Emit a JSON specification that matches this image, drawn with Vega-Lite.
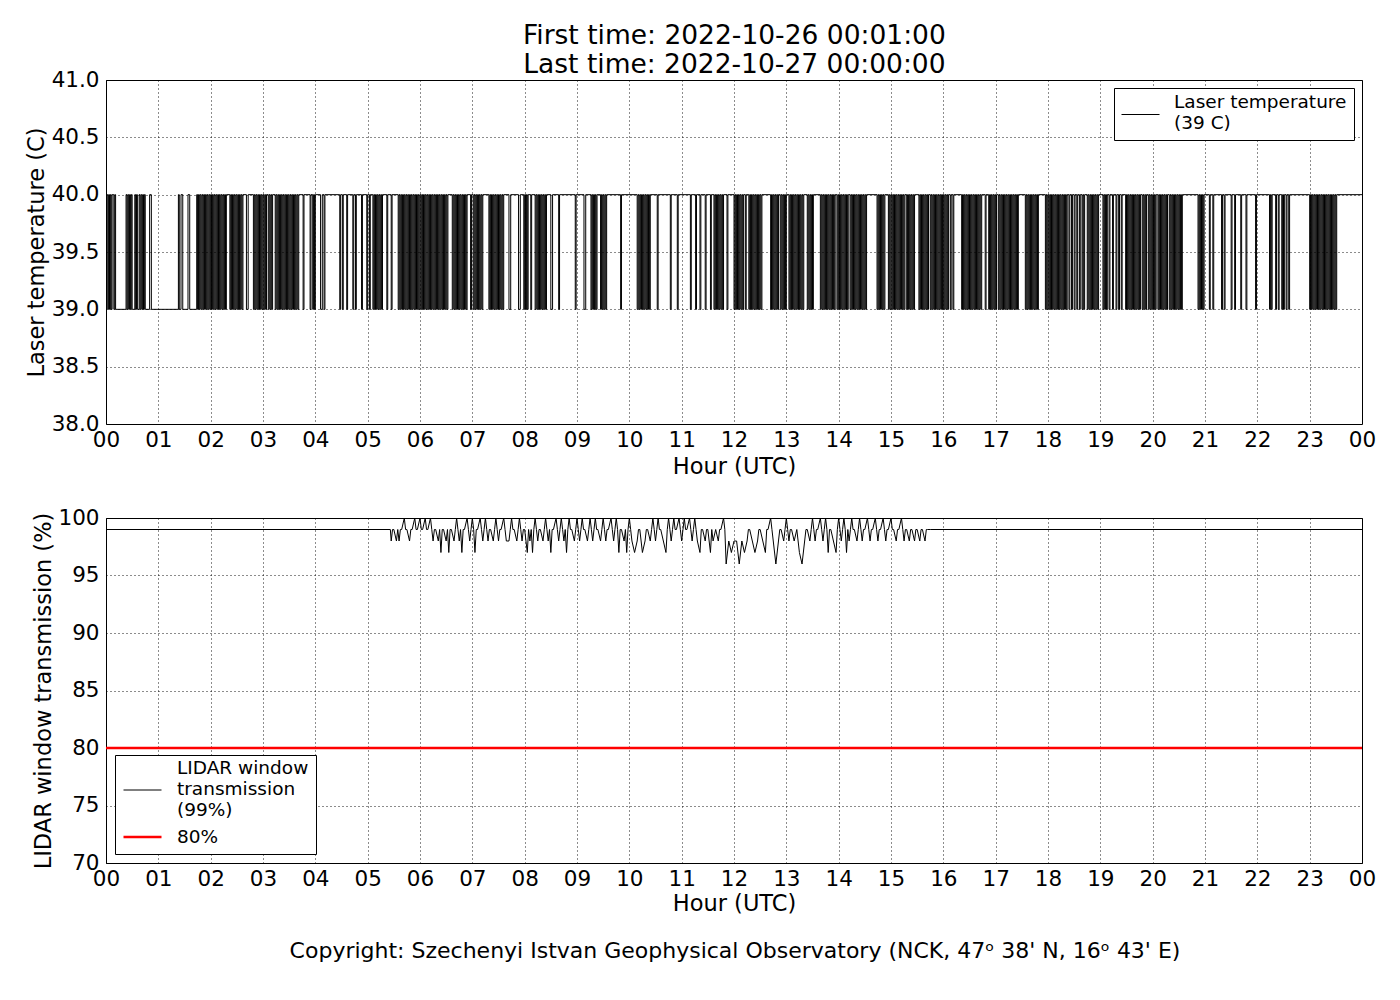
{
  "$schema": "https://vega.github.io/schema/vega-lite/v6.json",
  "background": "white",
  "padding": {"left": 24, "top": 23, "right": 5, "bottom": 5},
  "title": {
    "text": ["First time: 2022-10-26 00:01:00", "Last time: 2022-10-27 00:00:00"],
    "fontSize": 26.5,
    "font": "DejaVu Sans",
    "fontWeight": "normal",
    "color": "black",
    "lineHeight": 29,
    "offset": -10,
    "dx": 34,
    "anchor": "middle"
  },
  "config": {
    "font": "DejaVu Sans",
    "view": {"stroke": "black", "strokeWidth": 1},
    "axis": {
      "grid": true,
      "gridColor": "black",
      "gridDash": [1, 3],
      "gridWidth": 1,
      "gridOpacity": 0.9,
      "domain": false,
      "ticks": false,
      "labelFont": "DejaVu Sans",
      "labelFontSize": 21.5,
      "labelColor": "black",
      "labelPadding": 7,
      "titleFont": "DejaVu Sans",
      "titleFontSize": 22.5,
      "titleFontWeight": "normal",
      "titleColor": "black"
    },
    "legend": {
      "labelFont": "DejaVu Sans",
      "labelFontSize": 18.5,
      "labelColor": "black",
      "labelLimit": 400,
      "strokeColor": "black",
      "fillColor": "white",
      "cornerRadius": 0,
      "symbolType": "stroke",
      "symbolSize": 1444,
      "labelOffset": 14,
      "padding": 7
    }
  },
  "resolve": {"scale": {"color": "independent", "strokeWidth": "independent"}, "legend": {"color": "independent", "strokeWidth": "independent"}},
  "spacing": 27,
  "vconcat": [
    {
      "width": 1256,
      "height": 344,
      "data": {"values": [
        {"m":1,"v":40},{"m":2,"v":39},{"m":3,"v":40},{"m":4,"v":39},{"m":5,"v":40},{"m":6,"v":39},{"m":7,"v":40},{"m":9,"v":39},{"m":10,"v":40},{"m":11,"v":39},
        {"m":23,"v":40},{"m":24,"v":39},{"m":25,"v":40},{"m":26,"v":39},{"m":27,"v":40},{"m":28,"v":39},{"m":29,"v":40},{"m":30,"v":39},{"m":33,"v":40},{"m":34,"v":39},{"m":35,"v":40},{"m":36,"v":39},{"m":38,"v":40},{"m":39,"v":39},{"m":40,"v":40},{"m":41,"v":39},{"m":42,"v":40},{"m":43,"v":39},{"m":44,"v":40},{"m":45,"v":39},
        {"m":50,"v":40},{"m":52,"v":39},
        {"m":83,"v":40},{"m":84,"v":39},{"m":86,"v":40},{"m":88,"v":39},{"m":94,"v":40},{"m":96,"v":39},
        {"m":104,"v":40},{"m":105,"v":39},{"m":106,"v":40},{"m":107,"v":39},{"m":108,"v":40},{"m":109,"v":39},{"m":110,"v":40},{"m":111,"v":39},{"m":112,"v":40},{"m":113,"v":39},{"m":114,"v":40},{"m":115,"v":39},{"m":116,"v":40},{"m":117,"v":39},{"m":118,"v":40},{"m":119,"v":39},{"m":120,"v":40},
        {"m":121,"v":39},{"m":122,"v":40},{"m":123,"v":39},{"m":124,"v":40},{"m":125,"v":39},{"m":126,"v":40},{"m":127,"v":39},{"m":128,"v":40},{"m":129,"v":39},{"m":130,"v":40},{"m":131,"v":39},{"m":132,"v":40},{"m":133,"v":39},{"m":134,"v":40},{"m":135,"v":39},{"m":136,"v":40},{"m":137,"v":39},{"m":138,"v":40},
        {"m":142,"v":39},{"m":143,"v":40},{"m":144,"v":39},{"m":145,"v":40},{"m":146,"v":39},{"m":147,"v":40},{"m":148,"v":39},{"m":149,"v":40},{"m":150,"v":39},{"m":151,"v":40},{"m":152,"v":39},{"m":153,"v":40},{"m":154,"v":39},{"m":155,"v":40},{"m":156,"v":39},{"m":157,"v":40},
        {"m":161,"v":39},{"m":163,"v":40},
        {"m":169,"v":39},{"m":170,"v":40},{"m":171,"v":39},{"m":172,"v":40},{"m":173,"v":39},{"m":174,"v":40},{"m":175,"v":39},{"m":176,"v":40},{"m":177,"v":39},{"m":178,"v":40},{"m":179,"v":39},{"m":180,"v":40},{"m":181,"v":39},{"m":182,"v":40},{"m":183,"v":39},{"m":184,"v":40},
        {"m":186,"v":39},{"m":187,"v":40},{"m":188,"v":39},{"m":189,"v":40},{"m":190,"v":39},{"m":191,"v":40},
        {"m":194,"v":39},{"m":195,"v":40},{"m":196,"v":39},{"m":197,"v":40},{"m":198,"v":39},{"m":199,"v":40},{"m":200,"v":39},{"m":201,"v":40},{"m":202,"v":39},{"m":203,"v":40},{"m":204,"v":39},{"m":205,"v":40},{"m":206,"v":39},{"m":207,"v":40},{"m":208,"v":39},{"m":209,"v":40},{"m":210,"v":39},{"m":211,"v":40},{"m":212,"v":39},{"m":213,"v":40},{"m":214,"v":39},{"m":215,"v":40},{"m":216,"v":39},{"m":217,"v":40},{"m":218,"v":39},{"m":219,"v":40},{"m":220,"v":39},{"m":221,"v":40},
        {"m":226,"v":39},{"m":227,"v":40},
        {"m":234,"v":39},{"m":235,"v":40},{"m":237,"v":39},{"m":238,"v":40},{"m":239,"v":39},{"m":240,"v":40},
        {"m":246,"v":39},{"m":248,"v":40},{"m":250,"v":39},{"m":251,"v":40},
        {"m":268,"v":39},{"m":269,"v":40},{"m":271,"v":39},{"m":272,"v":40},{"m":276,"v":39},{"m":277,"v":40},{"m":283,"v":39},{"m":284,"v":40},{"m":286,"v":39},{"m":287,"v":40},{"m":293,"v":39},{"m":294,"v":40},{"m":299,"v":39},{"m":300,"v":40},{"m":302,"v":39},{"m":303,"v":40},
        {"m":306,"v":39},{"m":307,"v":40},{"m":308,"v":39},{"m":309,"v":40},{"m":310,"v":39},{"m":311,"v":40},{"m":312,"v":39},{"m":313,"v":40},{"m":314,"v":39},{"m":315,"v":40},{"m":316,"v":39},{"m":317,"v":40},
        {"m":322,"v":39},{"m":323,"v":40},{"m":327,"v":39},{"m":328,"v":40},
        {"m":335,"v":39},{"m":336,"v":40},{"m":337,"v":39},{"m":338,"v":40},{"m":339,"v":39},{"m":340,"v":40},{"m":341,"v":39},{"m":342,"v":40},{"m":343,"v":39},{"m":344,"v":40},{"m":345,"v":39},{"m":346,"v":40},{"m":347,"v":39},{"m":348,"v":40},{"m":349,"v":39},{"m":350,"v":40},{"m":351,"v":39},{"m":352,"v":40},{"m":353,"v":39},{"m":354,"v":40},{"m":355,"v":39},{"m":356,"v":40},{"m":357,"v":39},{"m":358,"v":40},{"m":359,"v":39},{"m":360,"v":40},{"m":361,"v":39},{"m":362,"v":40},{"m":363,"v":39},{"m":364,"v":40},
        {"m":365,"v":39},{"m":366,"v":40},{"m":367,"v":39},{"m":368,"v":40},{"m":369,"v":39},{"m":370,"v":40},{"m":371,"v":39},{"m":372,"v":40},{"m":373,"v":39},{"m":374,"v":40},{"m":375,"v":39},{"m":376,"v":40},{"m":377,"v":39},{"m":378,"v":40},{"m":379,"v":39},{"m":380,"v":40},{"m":381,"v":39},{"m":382,"v":40},{"m":383,"v":39},{"m":384,"v":40},{"m":385,"v":39},{"m":386,"v":40},{"m":387,"v":39},{"m":388,"v":40},{"m":389,"v":39},{"m":390,"v":40},{"m":391,"v":39},{"m":392,"v":40},
        {"m":397,"v":39},{"m":398,"v":40},{"m":399,"v":39},{"m":400,"v":40},{"m":401,"v":39},{"m":402,"v":40},{"m":403,"v":39},{"m":404,"v":40},{"m":405,"v":39},{"m":406,"v":40},{"m":407,"v":39},{"m":408,"v":40},{"m":409,"v":39},{"m":410,"v":40},{"m":411,"v":39},{"m":412,"v":40},{"m":413,"v":39},{"m":414,"v":40},
        {"m":418,"v":39},{"m":419,"v":40},
        {"m":421,"v":39},{"m":422,"v":40},{"m":423,"v":39},{"m":424,"v":40},{"m":425,"v":39},{"m":426,"v":40},{"m":427,"v":39},{"m":428,"v":40},{"m":429,"v":39},{"m":430,"v":40},{"m":431,"v":39},{"m":432,"v":40},
        {"m":439,"v":39},{"m":440,"v":40},{"m":441,"v":39},{"m":442,"v":40},{"m":443,"v":39},{"m":444,"v":40},{"m":445,"v":39},{"m":446,"v":40},{"m":447,"v":39},{"m":448,"v":40},{"m":449,"v":39},{"m":450,"v":40},{"m":451,"v":39},{"m":452,"v":40},{"m":453,"v":39},{"m":454,"v":40},{"m":455,"v":39},{"m":456,"v":40},
        {"m":462,"v":39},{"m":464,"v":40},{"m":473,"v":39},{"m":475,"v":40},
        {"m":479,"v":39},{"m":480,"v":40},{"m":481,"v":39},{"m":482,"v":40},{"m":483,"v":39},{"m":484,"v":40},{"m":487,"v":39},{"m":488,"v":40},
        {"m":492,"v":39},{"m":493,"v":40},{"m":494,"v":39},{"m":495,"v":40},{"m":496,"v":39},{"m":497,"v":40},{"m":498,"v":39},{"m":499,"v":40},{"m":500,"v":39},{"m":501,"v":40},{"m":502,"v":39},{"m":503,"v":40},{"m":504,"v":39},{"m":505,"v":40},
        {"m":510,"v":39},{"m":512,"v":40},{"m":519,"v":39},{"m":520,"v":40},{"m":538,"v":39},{"m":539,"v":40},{"m":548,"v":39},{"m":550,"v":40},
        {"m":556,"v":39},{"m":557,"v":40},{"m":558,"v":39},{"m":559,"v":40},{"m":560,"v":39},{"m":561,"v":40},{"m":562,"v":39},{"m":563,"v":40},
        {"m":567,"v":39},{"m":568,"v":40},{"m":569,"v":39},{"m":570,"v":40},{"m":571,"v":39},{"m":572,"v":40},{"m":573,"v":39},{"m":574,"v":40},
        {"m":590,"v":39},{"m":591,"v":40},
        {"m":609,"v":39},{"m":610,"v":40},{"m":611,"v":39},{"m":612,"v":40},{"m":613,"v":39},{"m":614,"v":40},{"m":615,"v":39},{"m":616,"v":40},{"m":617,"v":39},{"m":618,"v":40},{"m":619,"v":39},{"m":620,"v":40},{"m":621,"v":39},{"m":622,"v":40},{"m":623,"v":39},{"m":624,"v":40},
        {"m":632,"v":39},{"m":633,"v":40},{"m":647,"v":39},{"m":648,"v":40},{"m":655,"v":39},{"m":656,"v":40},{"m":670,"v":39},{"m":671,"v":40},{"m":676,"v":39},{"m":677,"v":40},{"m":681,"v":39},{"m":682,"v":40},{"m":687,"v":39},{"m":688,"v":40},{"m":693,"v":39},{"m":694,"v":40},
        {"m":697,"v":39},{"m":698,"v":40},{"m":699,"v":39},{"m":700,"v":40},{"m":701,"v":39},{"m":702,"v":40},{"m":703,"v":39},{"m":704,"v":40},{"m":705,"v":39},{"m":706,"v":40},{"m":707,"v":39},{"m":708,"v":40},
        {"m":712,"v":39},{"m":713,"v":40},
        {"m":720,"v":39},{"m":721,"v":40},{"m":722,"v":39},{"m":723,"v":40},{"m":724,"v":39},{"m":725,"v":40},{"m":726,"v":39},{"m":727,"v":40},{"m":728,"v":39},{"m":729,"v":40},{"m":730,"v":39},{"m":731,"v":40},
        {"m":733,"v":39},{"m":734,"v":40},{"m":737,"v":39},{"m":738,"v":40},
        {"m":739,"v":39},{"m":740,"v":40},{"m":741,"v":39},{"m":742,"v":40},{"m":743,"v":39},{"m":744,"v":40},{"m":745,"v":39},{"m":746,"v":40},{"m":747,"v":39},{"m":748,"v":40},{"m":749,"v":39},{"m":750,"v":40},{"m":751,"v":39},{"m":752,"v":40},
        {"m":762,"v":39},{"m":763,"v":40},{"m":764,"v":39},{"m":765,"v":40},{"m":766,"v":39},{"m":767,"v":40},{"m":768,"v":39},{"m":769,"v":40},{"m":770,"v":39},{"m":771,"v":40},
        {"m":773,"v":39},{"m":774,"v":40},{"m":775,"v":39},{"m":776,"v":40},{"m":777,"v":39},{"m":778,"v":40},{"m":779,"v":39},{"m":780,"v":40},
        {"m":783,"v":39},{"m":784,"v":40},{"m":785,"v":39},{"m":786,"v":40},{"m":787,"v":39},{"m":788,"v":40},{"m":789,"v":39},{"m":790,"v":40},{"m":791,"v":39},{"m":792,"v":40},{"m":793,"v":39},{"m":794,"v":40},{"m":795,"v":39},{"m":796,"v":40},{"m":797,"v":39},{"m":798,"v":40},{"m":799,"v":39},{"m":800,"v":40},
        {"m":804,"v":39},{"m":805,"v":40},{"m":806,"v":39},{"m":807,"v":40},{"m":808,"v":39},{"m":809,"v":40},{"m":810,"v":39},{"m":811,"v":40},
        {"m":819,"v":39},{"m":820,"v":40},{"m":821,"v":39},{"m":822,"v":40},{"m":823,"v":39},{"m":824,"v":40},{"m":825,"v":39},{"m":826,"v":40},{"m":827,"v":39},{"m":828,"v":40},{"m":829,"v":39},{"m":830,"v":40},{"m":831,"v":39},{"m":832,"v":40},{"m":833,"v":39},{"m":834,"v":40},{"m":835,"v":39},{"m":836,"v":40},
        {"m":838,"v":39},{"m":839,"v":40},{"m":840,"v":39},{"m":841,"v":40},{"m":842,"v":39},{"m":843,"v":40},{"m":844,"v":39},{"m":845,"v":40},{"m":846,"v":39},{"m":847,"v":40},{"m":848,"v":39},{"m":849,"v":40},{"m":850,"v":39},{"m":851,"v":40},
        {"m":853,"v":39},{"m":854,"v":40},{"m":855,"v":39},{"m":856,"v":40},{"m":857,"v":39},{"m":858,"v":40},{"m":859,"v":39},{"m":860,"v":40},{"m":861,"v":39},{"m":862,"v":40},{"m":863,"v":39},{"m":864,"v":40},{"m":865,"v":39},{"m":866,"v":40},{"m":867,"v":39},{"m":868,"v":40},{"m":869,"v":39},{"m":870,"v":40},{"m":871,"v":39},{"m":872,"v":40},
        {"m":884,"v":39},{"m":885,"v":40},{"m":886,"v":39},{"m":887,"v":40},{"m":888,"v":39},{"m":889,"v":40},{"m":890,"v":39},{"m":891,"v":40},{"m":892,"v":39},{"m":893,"v":40},
        {"m":897,"v":39},{"m":898,"v":40},{"m":899,"v":39},{"m":900,"v":40},{"m":901,"v":39},{"m":902,"v":40},{"m":903,"v":39},{"m":904,"v":40},{"m":905,"v":39},{"m":906,"v":40},{"m":907,"v":39},{"m":908,"v":40},{"m":909,"v":39},{"m":910,"v":40},{"m":911,"v":39},{"m":912,"v":40},{"m":913,"v":39},{"m":914,"v":40},{"m":915,"v":39},{"m":916,"v":40},
        {"m":918,"v":39},{"m":919,"v":40},{"m":920,"v":39},{"m":921,"v":40},{"m":922,"v":39},{"m":923,"v":40},{"m":924,"v":39},{"m":925,"v":40},{"m":926,"v":39},{"m":927,"v":40},
        {"m":932,"v":39},{"m":933,"v":40},{"m":934,"v":39},{"m":935,"v":40},{"m":936,"v":39},{"m":937,"v":40},{"m":938,"v":39},{"m":939,"v":40},{"m":940,"v":39},{"m":941,"v":40},{"m":942,"v":39},{"m":943,"v":40},
        {"m":945,"v":39},{"m":946,"v":40},{"m":947,"v":39},{"m":948,"v":40},{"m":949,"v":39},{"m":950,"v":40},{"m":951,"v":39},{"m":952,"v":40},{"m":953,"v":39},{"m":954,"v":40},{"m":955,"v":39},{"m":956,"v":40},{"m":957,"v":39},{"m":958,"v":40},{"m":959,"v":39},{"m":960,"v":40},{"m":961,"v":39},{"m":962,"v":40},{"m":963,"v":39},{"m":964,"v":40},{"m":965,"v":39},{"m":966,"v":40},
        {"m":968,"v":39},{"m":969,"v":40},{"m":971,"v":39},{"m":972,"v":40},
        {"m":981,"v":39},{"m":982,"v":40},{"m":983,"v":39},{"m":984,"v":40},{"m":985,"v":39},{"m":986,"v":40},{"m":987,"v":39},{"m":988,"v":40},{"m":989,"v":39},{"m":990,"v":40},{"m":991,"v":39},{"m":992,"v":40},{"m":993,"v":39},{"m":994,"v":40},{"m":995,"v":39},{"m":996,"v":40},{"m":997,"v":39},{"m":998,"v":40},{"m":999,"v":39},{"m":1000,"v":40},{"m":1001,"v":39},{"m":1002,"v":40},{"m":1003,"v":39},{"m":1004,"v":40},
        {"m":1008,"v":39},{"m":1009,"v":40},
        {"m":1012,"v":39},{"m":1013,"v":40},{"m":1014,"v":39},{"m":1015,"v":40},{"m":1016,"v":39},{"m":1017,"v":40},{"m":1018,"v":39},{"m":1019,"v":40},{"m":1020,"v":39},{"m":1021,"v":40},
        {"m":1023,"v":39},{"m":1024,"v":40},{"m":1025,"v":39},{"m":1026,"v":40},{"m":1027,"v":39},{"m":1028,"v":40},{"m":1029,"v":39},{"m":1030,"v":40},{"m":1031,"v":39},{"m":1032,"v":40},{"m":1033,"v":39},{"m":1034,"v":40},{"m":1035,"v":39},{"m":1036,"v":40},{"m":1037,"v":39},{"m":1038,"v":40},{"m":1039,"v":39},{"m":1040,"v":40},{"m":1041,"v":39},{"m":1042,"v":40},{"m":1043,"v":39},{"m":1044,"v":40},{"m":1045,"v":39},{"m":1046,"v":40},
        {"m":1054,"v":39},{"m":1055,"v":40},{"m":1056,"v":39},{"m":1057,"v":40},{"m":1058,"v":39},{"m":1059,"v":40},{"m":1060,"v":39},{"m":1061,"v":40},{"m":1062,"v":39},{"m":1063,"v":40},{"m":1064,"v":39},{"m":1065,"v":40},{"m":1066,"v":39},{"m":1067,"v":40},{"m":1068,"v":39},{"m":1069,"v":40},
        {"m":1077,"v":39},{"m":1078,"v":40},{"m":1079,"v":39},{"m":1080,"v":40},{"m":1081,"v":39},{"m":1082,"v":40},{"m":1083,"v":39},{"m":1084,"v":40},{"m":1085,"v":39},{"m":1086,"v":40},{"m":1087,"v":39},{"m":1088,"v":40},{"m":1089,"v":39},{"m":1090,"v":40},{"m":1091,"v":39},{"m":1092,"v":40},{"m":1093,"v":39},{"m":1094,"v":40},{"m":1095,"v":39},{"m":1096,"v":40},{"m":1097,"v":39},{"m":1098,"v":40},{"m":1099,"v":39},{"m":1100,"v":40},{"m":1101,"v":39},{"m":1102,"v":40},
        {"m":1104,"v":39},{"m":1105,"v":40},{"m":1107,"v":39},{"m":1108,"v":40},{"m":1110,"v":39},{"m":1111,"v":40},{"m":1113,"v":39},{"m":1114,"v":40},{"m":1116,"v":39},{"m":1117,"v":40},{"m":1119,"v":39},{"m":1120,"v":40},{"m":1121,"v":39},{"m":1122,"v":40},
        {"m":1125,"v":39},{"m":1126,"v":40},{"m":1127,"v":39},{"m":1128,"v":40},{"m":1129,"v":39},{"m":1130,"v":40},{"m":1131,"v":39},{"m":1132,"v":40},{"m":1133,"v":39},{"m":1134,"v":40},{"m":1135,"v":39},{"m":1136,"v":40},{"m":1137,"v":39},{"m":1138,"v":40},
        {"m":1143,"v":39},{"m":1144,"v":40},{"m":1145,"v":39},{"m":1146,"v":40},{"m":1147,"v":39},{"m":1148,"v":40},
        {"m":1150,"v":39},{"m":1151,"v":40},{"m":1154,"v":39},{"m":1155,"v":40},{"m":1158,"v":39},{"m":1159,"v":40},{"m":1161,"v":39},{"m":1162,"v":40},{"m":1164,"v":39},{"m":1165,"v":40},
        {"m":1169,"v":39},{"m":1170,"v":40},{"m":1171,"v":39},{"m":1172,"v":40},{"m":1173,"v":39},{"m":1174,"v":40},{"m":1175,"v":39},{"m":1176,"v":40},{"m":1177,"v":39},{"m":1178,"v":40},{"m":1179,"v":39},{"m":1180,"v":40},{"m":1181,"v":39},{"m":1182,"v":40},{"m":1183,"v":39},{"m":1184,"v":40},{"m":1185,"v":39},{"m":1186,"v":40},
        {"m":1188,"v":39},{"m":1189,"v":40},{"m":1190,"v":39},{"m":1191,"v":40},{"m":1192,"v":39},{"m":1193,"v":40},
        {"m":1195,"v":39},{"m":1196,"v":40},{"m":1197,"v":39},{"m":1198,"v":40},{"m":1199,"v":39},{"m":1200,"v":40},{"m":1201,"v":39},{"m":1202,"v":40},{"m":1203,"v":39},{"m":1204,"v":40},
        {"m":1206,"v":39},{"m":1207,"v":40},{"m":1208,"v":39},{"m":1209,"v":40},{"m":1210,"v":39},{"m":1211,"v":40},{"m":1212,"v":39},{"m":1213,"v":40},{"m":1214,"v":39},{"m":1215,"v":40},{"m":1216,"v":39},{"m":1217,"v":40},
        {"m":1219,"v":39},{"m":1220,"v":40},{"m":1221,"v":39},{"m":1222,"v":40},{"m":1223,"v":39},{"m":1224,"v":40},{"m":1225,"v":39},{"m":1226,"v":40},{"m":1227,"v":39},{"m":1228,"v":40},{"m":1229,"v":39},{"m":1230,"v":40},{"m":1231,"v":39},{"m":1232,"v":40},{"m":1233,"v":39},{"m":1234,"v":40},
        {"m":1252,"v":39},{"m":1253,"v":40},{"m":1254,"v":39},{"m":1255,"v":40},{"m":1256,"v":39},{"m":1257,"v":40},{"m":1258,"v":39},{"m":1259,"v":40},
        {"m":1265,"v":39},{"m":1266,"v":40},{"m":1269,"v":39},{"m":1270,"v":40},{"m":1279,"v":39},{"m":1280,"v":40},{"m":1282,"v":39},{"m":1283,"v":40},{"m":1290,"v":39},{"m":1291,"v":40},{"m":1294,"v":39},{"m":1295,"v":40},{"m":1301,"v":39},{"m":1302,"v":40},{"m":1307,"v":39},{"m":1308,"v":40},{"m":1318,"v":39},{"m":1319,"v":40},
        {"m":1334,"v":39},{"m":1335,"v":40},{"m":1336,"v":39},{"m":1337,"v":40},{"m":1341,"v":39},{"m":1342,"v":40},{"m":1344,"v":39},{"m":1345,"v":40},{"m":1348,"v":39},{"m":1349,"v":40},{"m":1350,"v":39},{"m":1351,"v":40},{"m":1353,"v":39},{"m":1354,"v":40},{"m":1356,"v":39},{"m":1357,"v":40},
        {"m":1380,"v":39},{"m":1381,"v":40},{"m":1382,"v":39},{"m":1383,"v":40},{"m":1384,"v":39},{"m":1385,"v":40},{"m":1386,"v":39},{"m":1387,"v":40},{"m":1388,"v":39},{"m":1389,"v":40},{"m":1390,"v":39},{"m":1391,"v":40},{"m":1392,"v":39},{"m":1393,"v":40},{"m":1394,"v":39},{"m":1395,"v":40},{"m":1396,"v":39},{"m":1397,"v":40},{"m":1398,"v":39},{"m":1399,"v":40},{"m":1400,"v":39},{"m":1401,"v":40},{"m":1402,"v":39},{"m":1403,"v":40},{"m":1404,"v":39},{"m":1405,"v":40},{"m":1406,"v":39},{"m":1407,"v":40},{"m":1408,"v":39},{"m":1409,"v":40},{"m":1410,"v":39},{"m":1411,"v":40},
        {"m":1440,"v":40}
      ]},
      "mark": {"type": "line", "interpolate": "step-after", "strokeWidth": 1},
      "encoding": {
        "x": {
          "field": "m", "type": "quantitative",
          "scale": {"domain": [0, 1440], "nice": false, "zero": false},
          "axis": {
            "title": "Hour (UTC)",
            "values": [0,60,120,180,240,300,360,420,480,540,600,660,720,780,840,900,960,1020,1080,1140,1200,1260,1320,1380,1440],
            "labelExpr": "format((datum.value / 60) % 24, '02d')",
            "labelFlush": false,
            "labelOverlap": false,
            "labelPadding": 5,
            "titlePadding": 5
          }
        },
        "y": {
          "field": "v", "type": "quantitative",
          "scale": {"domain": [38, 41], "nice": false, "zero": false},
          "axis": {
            "title": "Laser temperature (C)",
            "values": [38, 38.5, 39, 39.5, 40, 40.5, 41],
            "format": ".1f",
            "titlePadding": 3
          }
        },
        "color": {
          "datum": "Laser temperature|(39 C)",
          "scale": {"range": ["black"]},
          "legend": {
            "title": null,
            "orient": "top-right",
            "offset": 8,
            "labelExpr": "split(datum.label, '|')",
            "symbolStrokeWidth": 1,
            "encode": {"labels": {"update": {"lineHeight": {"value": 21}, "y": {"value": 7}}}}
          }
        }
      }
    },
    {
      "width": 1256,
      "height": 345,
      "title": {
        "text": "Copyright: Szechenyi Istvan Geophysical Observatory (NCK, 47ᵒ  38' N, 16ᵒ  43' E)",
        "orient": "bottom",
        "fontSize": 22,
        "font": "DejaVu Sans",
        "fontWeight": "normal",
        "color": "black",
        "offset": 26,
        "dx": 1,
        "anchor": "middle"
      },
      "layer": [
        {
          "data": {"values": [
            {"m":1,"v":99},{"m":326,"v":99},
            {"m":327,"v":98},{"m":328.5,"v":99},{"m":330,"v":99},{"m":333,"v":98},{"m":334.5,"v":99},{"m":336,"v":98},{"m":337.5,"v":99},{"m":339,"v":99},{"m":342,"v":100},{"m":343.5,"v":99},{"m":345,"v":99},{"m":348,"v":98},{"m":349.5,"v":99},{"m":351,"v":99},{"m":354,"v":100},{"m":355.5,"v":99},{"m":357,"v":99},{"m":360,"v":100},{"m":361.5,"v":99},
            {"m":363,"v":99},{"m":366,"v":100},{"m":367.5,"v":99},{"m":369,"v":99},{"m":372,"v":100},{"m":373.5,"v":99},{"m":375,"v":98},{"m":376.5,"v":99},{"m":378,"v":99},{"m":381,"v":98},{"m":382.5,"v":99},{"m":384,"v":97},{"m":385.5,"v":99},{"m":387,"v":99},{"m":390,"v":98},{"m":391.5,"v":99},{"m":393,"v":97},{"m":394.5,"v":99},{"m":396,"v":99},{"m":399,"v":98},{"m":400.5,"v":99},{"m":402,"v":100},{"m":403.5,"v":99},{"m":405,"v":98},{"m":406.5,"v":99},{"m":408,"v":97},{"m":409.5,"v":99},{"m":411,"v":99},{"m":414,"v":100},{"m":415.5,"v":99},{"m":417,"v":98},{"m":418.5,"v":99},{"m":420,"v":100},{"m":421.5,"v":99},
            {"m":423,"v":97},{"m":424.5,"v":99},{"m":426,"v":99},{"m":429,"v":100},{"m":430.5,"v":99},{"m":432,"v":98},{"m":433.5,"v":99},{"m":435,"v":100},{"m":436.5,"v":99},{"m":438,"v":98},{"m":439.5,"v":99},{"m":441,"v":99},{"m":444,"v":98},{"m":445.5,"v":99},{"m":447,"v":100},{"m":448.5,"v":99},{"m":450,"v":98},{"m":451.5,"v":99},{"m":453,"v":99},{"m":456,"v":100},{"m":457.5,"v":99},{"m":459,"v":98},{"m":462,"v":98},{"m":463.5,"v":99},{"m":465,"v":100},{"m":466.5,"v":99},{"m":468,"v":99},{"m":471,"v":98},{"m":472.5,"v":99},{"m":474,"v":100},{"m":475.5,"v":99},{"m":477,"v":98},{"m":478.5,"v":99},{"m":480,"v":99},
            {"m":483,"v":97},{"m":484.5,"v":99},{"m":486,"v":98},{"m":487.5,"v":99},{"m":489,"v":97},{"m":490.5,"v":99},{"m":492,"v":100},{"m":493.5,"v":99},{"m":495,"v":98},{"m":496.5,"v":99},{"m":498,"v":99},{"m":501,"v":98},{"m":502.5,"v":99},{"m":504,"v":100},{"m":505.5,"v":99},{"m":507,"v":98},{"m":508.5,"v":99},{"m":510,"v":97},{"m":511.5,"v":99},{"m":513,"v":99},{"m":516,"v":100},{"m":517.5,"v":99},{"m":519,"v":98},{"m":520.5,"v":99},{"m":522,"v":100},{"m":523.5,"v":99},{"m":525,"v":98},{"m":526.5,"v":99},{"m":528,"v":97},{"m":529.5,"v":99},{"m":531,"v":100},{"m":532.5,"v":99},{"m":534,"v":99},{"m":537,"v":98},{"m":538.5,"v":99},{"m":540,"v":100},{"m":541.5,"v":99},
            {"m":543,"v":98},{"m":544.5,"v":99},{"m":546,"v":100},{"m":547.5,"v":99},{"m":549,"v":99},{"m":552,"v":98},{"m":553.5,"v":99},{"m":555,"v":100},{"m":556.5,"v":99},{"m":558,"v":98},{"m":559.5,"v":99},{"m":561,"v":100},{"m":562.5,"v":99},{"m":564,"v":99},{"m":567,"v":98},{"m":568.5,"v":99},{"m":570,"v":100},{"m":571.5,"v":99},{"m":573,"v":98},{"m":574.5,"v":99},{"m":576,"v":99},{"m":579,"v":100},{"m":580.5,"v":99},{"m":582,"v":98},{"m":583.5,"v":99},{"m":585,"v":100},{"m":586.5,"v":99},{"m":588,"v":97},{"m":589.5,"v":99},{"m":591,"v":99},{"m":594,"v":98},{"m":595.5,"v":99},{"m":597,"v":97},{"m":598.5,"v":99},{"m":600,"v":100},{"m":601.5,"v":99},
            {"m":603,"v":98},{"m":606,"v":97},{"m":609,"v":98},{"m":610.5,"v":99},{"m":612,"v":99},{"m":615,"v":97},{"m":618,"v":98},{"m":619.5,"v":99},{"m":621,"v":99},{"m":624,"v":98},{"m":625.5,"v":99},{"m":627,"v":100},{"m":628.5,"v":99},{"m":630,"v":98},{"m":631.5,"v":99},{"m":633,"v":100},{"m":634.5,"v":99},{"m":636,"v":99},{"m":639,"v":98},{"m":642,"v":97},{"m":643.5,"v":99},{"m":645,"v":100},{"m":646.5,"v":99},{"m":648,"v":98},{"m":649.5,"v":99},{"m":651,"v":100},{"m":652.5,"v":99},{"m":654,"v":99},{"m":657,"v":100},{"m":658.5,"v":99},{"m":660,"v":98},{"m":661.5,"v":99},
            {"m":663,"v":100},{"m":664.5,"v":99},{"m":666,"v":99},{"m":669,"v":100},{"m":670.5,"v":99},{"m":672,"v":98},{"m":673.5,"v":99},{"m":675,"v":100},{"m":676.5,"v":99},{"m":678,"v":98},{"m":681,"v":97},{"m":682.5,"v":99},{"m":684,"v":99},{"m":687,"v":98},{"m":688.5,"v":99},{"m":690,"v":99},{"m":693,"v":97},{"m":694.5,"v":99},{"m":696,"v":98},{"m":699,"v":99},{"m":702,"v":98},{"m":703.5,"v":99},{"m":705,"v":99},{"m":708,"v":100},{"m":709.5,"v":99},{"m":711,"v":96},{"m":714,"v":98},{"m":717,"v":97},{"m":720,"v":98},
            {"m":723,"v":98},{"m":726,"v":96},{"m":729,"v":98},{"m":732,"v":97},{"m":735,"v":98},{"m":736.5,"v":99},{"m":738,"v":99},{"m":741,"v":98},{"m":744,"v":97},{"m":747,"v":98},{"m":748.5,"v":99},{"m":750,"v":99},{"m":753,"v":98},{"m":756,"v":97},{"m":757.5,"v":99},{"m":759,"v":99},{"m":762,"v":100},{"m":763.5,"v":99},{"m":765,"v":98},{"m":768,"v":96},{"m":771,"v":98},{"m":772.5,"v":99},{"m":774,"v":99},{"m":777,"v":98},{"m":778.5,"v":99},{"m":780,"v":100},{"m":781.5,"v":99},
            {"m":783,"v":98},{"m":784.5,"v":99},{"m":786,"v":99},{"m":789,"v":98},{"m":792,"v":99},{"m":795,"v":97},{"m":798,"v":96},{"m":801,"v":98},{"m":802.5,"v":99},{"m":804,"v":99},{"m":807,"v":98},{"m":808.5,"v":99},{"m":810,"v":100},{"m":811.5,"v":99},{"m":813,"v":98},{"m":814.5,"v":99},{"m":816,"v":99},{"m":819,"v":100},{"m":820.5,"v":99},{"m":822,"v":98},{"m":823.5,"v":99},{"m":825,"v":100},{"m":826.5,"v":99},{"m":828,"v":97},{"m":829.5,"v":99},{"m":831,"v":99},{"m":834,"v":98},{"m":837,"v":97},{"m":838.5,"v":99},{"m":840,"v":100},{"m":841.5,"v":99},
            {"m":843,"v":98},{"m":844.5,"v":99},{"m":846,"v":100},{"m":847.5,"v":99},{"m":849,"v":97},{"m":850.5,"v":99},{"m":852,"v":98},{"m":853.5,"v":99},{"m":855,"v":100},{"m":856.5,"v":99},{"m":858,"v":99},{"m":861,"v":98},{"m":862.5,"v":99},{"m":864,"v":100},{"m":865.5,"v":99},{"m":867,"v":98},{"m":868.5,"v":99},{"m":870,"v":99},{"m":873,"v":100},{"m":874.5,"v":99},{"m":876,"v":98},{"m":877.5,"v":99},{"m":879,"v":99},{"m":882,"v":100},{"m":883.5,"v":99},{"m":885,"v":98},{"m":886.5,"v":99},{"m":888,"v":99},{"m":891,"v":100},{"m":892.5,"v":99},{"m":894,"v":98},{"m":895.5,"v":99},{"m":897,"v":99},{"m":900,"v":100},{"m":901.5,"v":99},
            {"m":903,"v":99},{"m":906,"v":98},{"m":907.5,"v":99},{"m":909,"v":99},{"m":912,"v":100},{"m":913.5,"v":99},{"m":915,"v":98},{"m":916.5,"v":99},{"m":918,"v":99},{"m":921,"v":98},{"m":922.5,"v":99},{"m":924,"v":99},{"m":927,"v":98},{"m":928.5,"v":99},{"m":930,"v":99},{"m":933,"v":98},{"m":934.5,"v":99},{"m":936,"v":99},{"m":939,"v":98},{"m":940.5,"v":99},{"m":942,"v":99},{"m":945,"v":99},
            {"m":1440,"v":99}
          ]},
          "mark": {"type": "line"},
          "encoding": {
            "x": {
              "field": "m", "type": "quantitative",
              "scale": {"domain": [0, 1440], "nice": false, "zero": false},
              "axis": {
                "title": "Hour (UTC)",
                "values": [0,60,120,180,240,300,360,420,480,540,600,660,720,780,840,900,960,1020,1080,1140,1200,1260,1320,1380,1440],
                "labelExpr": "format((datum.value / 60) % 24, '02d')",
                "labelFlush": false,
                "labelOverlap": false,
                "labelPadding": 5,
                "titlePadding": 3
              }
            },
            "y": {
              "field": "v", "type": "quantitative",
              "scale": {"domain": [70, 100], "nice": false, "zero": false},
              "axis": {
                "title": "LIDAR window transmission (%)",
                "values": [70, 75, 80, 85, 90, 95, 100],
                "titlePadding": 2
              }
            },
            "color": {
              "datum": "LIDAR window|transmission|(99%)",
              "scale": {"domain": ["LIDAR window|transmission|(99%)", "80%"], "range": ["black", "red"]},
              "legend": {
                "title": null,
                "orient": "bottom-left",
                "offset": 9,
                "labelExpr": "split(datum.label, '|')",
                "rowPadding": 0,
                "encode": {
                  "labels": {"update": {"lineHeight": {"value": 21}, "y": {"signal": "datum.value == '80%' ? 17 : 6"}}},
                  "symbols": {"update": {"y": {"signal": "datum.value == '80%' ? 17 : 28"}}}
                }
              }
            },
            "strokeWidth": {
              "datum": "LIDAR window|transmission|(99%)",
              "type": "ordinal",
              "scale": {"domain": ["LIDAR window|transmission|(99%)", "80%"], "range": [1, 2.5]},
              "legend": {
                "title": null,
                "orient": "bottom-left",
                "offset": 9,
                "labelExpr": "split(datum.label, '|')",
                "rowPadding": 0,
                "encode": {
                  "labels": {"update": {"lineHeight": {"value": 21}, "y": {"signal": "datum.value == '80%' ? 17 : 6"}}},
                  "symbols": {"update": {"y": {"signal": "datum.value == '80%' ? 17 : 28"}}}
                }
              }
            }
          }
        },
        {
          "data": {"values": [{"m": 0, "v": 80}, {"m": 1440, "v": 80}]},
          "mark": {"type": "line"},
          "encoding": {
            "x": {"field": "m", "type": "quantitative"},
            "y": {"field": "v", "type": "quantitative"},
            "color": {"datum": "80%"},
            "strokeWidth": {"datum": "80%", "type": "ordinal"}
          }
        }
      ]
    }
  ]
}
